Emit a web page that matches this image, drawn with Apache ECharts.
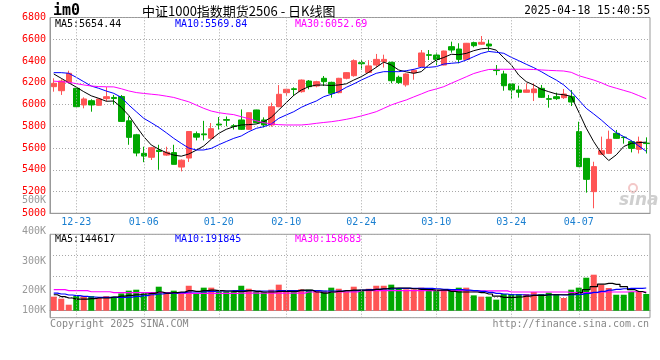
<!DOCTYPE html>
<html><head><meta charset="utf-8">
<script src="https://cdn.jsdelivr.net/npm/echarts@6.0.0/dist/echarts.min.js"></script>
<style>html,body{margin:0;padding:0;background:#fff}#c{width:660px;height:360px}</style>
</head><body><div id="c"></div><script>
const dates = ['12-18','12-19','12-20','12-23','12-24','12-25','12-26','12-27','12-30','12-31',
'01-02','01-03','01-06','01-07','01-08','01-09','01-10','01-13','01-14','01-15','01-16','01-17',
'01-20','01-21','01-22','01-23','01-24','01-27','02-05','02-06','02-07','02-10','02-11','02-12',
'02-13','02-14','02-17','02-18','02-19','02-20','02-21','02-24','02-25','02-26','02-27','02-28',
'03-03','03-04','03-05','03-06','03-07','03-10','03-11','03-12','03-13','03-14','03-17','03-18',
'03-19','03-20','03-21','03-24','03-25','03-26','03-27','03-28','03-31','04-01','04-02','04-03',
'04-07','04-08','04-09','04-10','04-11','04-14','04-15','04-16','04-17','04-18'];
const opens  = [6164,6127,6207,6149,5996,6035,5993,6054,6065,6074,5850,5722,5551,5515,5580,5535,5558,5425,5508,5732,
5730,5690,5820,5862,5805,5858,5772,5950,5858,5812,5980,6109,6145,6118,6216,6170,6241,6204,6109,6241,
6265,6385,6295,6363,6395,6388,6250,6181,6292,6348,6458,6455,6363,6532,6510,6415,6569,6555,6556,6320,
6281,6189,6134,6112,6109,6149,6054,6072,6063,6072,5751,5505,5199,5542,5551,5735,5700,5659,5588,5645];
const closes = [6195,6216,6287,5980,6051,5996,6051,6072,6055,5845,5698,5554,5526,5603,5568,5562,5450,5488,5752,5700,
5722,5778,5812,5855,5798,5772,5925,5833,5812,5980,6094,6140,6138,6225,6164,6210,6210,6103,6241,6293,
6403,6375,6355,6415,6415,6219,6201,6281,6315,6474,6452,6415,6492,6501,6415,6563,6541,6572,6538,6312,
6173,6134,6112,6134,6143,6066,6048,6054,6097,6023,5429,5312,5429,5576,5680,5689,5696,5597,5659,5641];
const lows   = [6118,6088,6195,5977,5965,5934,5990,6030,6000,5840,5630,5524,5470,5490,5400,5528,5450,5385,5472,5670,
5670,5680,5770,5800,5770,5766,5766,5827,5790,5796,5975,6078,6078,6109,6140,6158,6170,6063,6103,6232,
6256,6320,6290,6340,6340,6195,6189,6164,6228,6348,6409,6363,6360,6477,6379,6410,6526,6550,6495,6270,
6127,6051,6063,6110,6032,6060,5971,6042,6051,5986,5425,5190,5046,5535,5545,5685,5640,5560,5550,5550];
const highs  = [6241,6232,6311,6152,6066,6048,6055,6160,6088,6087,5890,5730,5612,5610,5630,5612,5630,5495,5755,5752,
5850,5830,5885,5890,5820,5955,5928,5952,5882,6017,6179,6145,6158,6230,6225,6218,6262,6210,6245,6298,
6415,6408,6408,6465,6458,6394,6265,6287,6328,6501,6501,6477,6495,6578,6563,6566,6578,6630,6593,6363,
6311,6189,6173,6195,6195,6180,6088,6109,6143,6134,5842,5505,5474,5705,5760,5766,5705,5668,5705,5698];
const ma5  = [6281,6241,6200,6160,6118,6080,6057,6030,6032,5974,5900,5800,5705,5628,5590,5558,5535,5525,5545,5580,
5619,5680,5735,5772,5796,5812,5815,5821,5842,5882,5950,6017,6084,6133,6164,6179,6179,6175,6180,6190,
6225,6256,6296,6342,6390,6363,6317,6300,6287,6302,6363,6409,6432,6462,6458,6470,6495,6512,6518,6500,
6430,6365,6270,6210,6180,6140,6118,6097,6090,6075,5931,5783,5658,5554,5485,5537,5614,5643,5650,5654];
const ma10 = [6293,6293,6287,6250,6210,6170,6149,6124,6103,6066,5996,5934,5873,5833,5790,5741,5689,5643,5600,5582,
5582,5597,5630,5660,5689,5711,5750,5781,5796,5821,5873,5904,5934,5974,6005,6032,6072,6094,6118,6158,
6189,6225,6256,6287,6302,6302,6302,6311,6323,6342,6342,6348,6372,6379,6385,6409,6440,6470,6488,6480,
6471,6434,6403,6370,6339,6302,6262,6225,6180,6118,6042,5965,5913,5858,5797,5741,5705,5668,5619,5570];
const ma30 = [6215,6210,6205,6192,6180,6170,6165,6163,6162,6145,6125,6110,6102,6095,6088,6077,6065,6045,6025,5995,
5965,5940,5925,5915,5907,5888,5870,5850,5833,5821,5815,5812,5812,5812,5818,5827,5835,5842,5852,5864,
5878,5895,5914,5934,5965,5996,6020,6042,6070,6097,6125,6143,6164,6195,6225,6255,6285,6305,6322,6324,
6324,6324,6324,6324,6322,6318,6314,6311,6308,6296,6265,6245,6225,6200,6170,6150,6130,6110,6082,6053];
// volume in thousands (K)
const volumes = [117,100,50,122,122,122,106,122,117,144,167,175,144,139,200,144,167,156,208,139,
192,192,161,161,161,208,183,156,156,175,217,156,167,178,175,167,167,192,183,161,
200,167,183,208,208,217,189,178,178,192,167,167,178,167,192,192,128,117,117,92,
139,139,139,139,156,139,150,139,106,175,192,275,300,217,189,133,133,156,161,139];
const volMa5  = [133,117,106,97,97,100,106,106,114,122,128,133,139,144,156,147,150,156,167,161,
167,172,167,164,161,161,167,161,156,156,161,161,161,172,172,156,147,156,161,167,
172,172,172,178,183,189,189,189,183,178,175,172,172,161,156,156,156,150,139,122,
111,111,114,122,128,128,133,133,133,139,150,175,200,222,228,220,200,175,160,148];
const volMa10 = [147,139,131,125,120,114,111,111,111,111,113,119,125,133,139,144,147,150,156,156,
158,161,164,164,167,167,167,164,164,164,167,167,167,167,167,167,164,164,164,167,
167,172,175,178,181,183,186,186,186,186,186,183,178,175,175,172,167,161,153,144,
139,133,133,131,131,131,133,133,131,133,136,144,153,161,172,178,183,186,186,189];
const volMa30 = [175,175,167,167,167,158,158,158,150,150,150,150,150,150,150,150,144,144,144,144,
144,144,144,144,144,147,147,147,147,147,147,147,147,147,156,156,156,156,156,156,
156,167,167,167,167,167,167,167,167,167,167,167,167,167,167,167,165,165,165,165,
165,156,156,156,156,156,156,156,156,150,150,150,150,156,156,156,156,158,158,158];
const gridDates = ['12-23','01-06','01-20','02-10','02-24','03-10','03-24','04-07'];
const priceMin = 5000, priceMax = 6800, priceStep = 200;
const volTickLabels = ['500K','400K','300K','200K','100K'];
const volTickY = [200,231,261,290,310];
const priceLegend = ['MA5:5654.44','MA10:5569.84','MA30:6052.69'];
const volLegend = ['MA5:144617','MA10:191845','MA30:158683'];
const maColors = ['#000000','#0000ff','#ff00ff'];
const UP = '#ff5555', DOWN = '#00a800';

const MONO = '"DejaVu Sans Mono", monospace';
const chart = echarts.init(document.getElementById('c'), null, {renderer:'canvas'});
const candleData = dates.map((d,i)=>[opens[i],closes[i],lows[i],highs[i]]);
const volData = volumes.map((v,i)=>({value:v, itemStyle:{color: closes[i]>=opens[i]?UP:DOWN}}));
const dotted = {color:'#a8a8a8', type:[1,2], width:1};
const vmark = {silent:true, symbol:['none','none'], label:{show:false}, lineStyle:dotted,
  emphasis:{disabled:true}, data: gridDates.map(d=>({xAxis:d}))};

function txt(text, x, y, color, font, align, extra){
  const el = {type:'text', silent:true, style:{text, x, y, fill:color, font,
    align:align||'left', verticalAlign:'middle', textAlign:align||'left', textVerticalAlign:'middle'}};
  return Object.assign(el, extra||{});
}
const graphics = [
  txt('im0', 53, 11, '#000', 'bold 15px '+MONO),
  txt('中证1000指数期货2506 - 日K线图', 142, 11, '#000', '13px "Noto Sans CJK SC"'),
  txt('2025-04-18 15:40:55', 0, 0, '#000', '11px '+MONO, 'right', {x:650, y:11, scaleY:1.15}),
  txt(priceLegend[0], 55, 24, maColors[0], '10px '+MONO),
  txt(priceLegend[1], 175, 24, maColors[1], '10px '+MONO),
  txt(priceLegend[2], 295, 24, maColors[2], '10px '+MONO),
  txt(volLegend[0], 55, 239, maColors[0], '10px '+MONO),
  txt(volLegend[1], 175, 239, maColors[1], '10px '+MONO),
  txt(volLegend[2], 295, 239, maColors[2], '10px '+MONO),
  txt('Copyright 2025 SINA.COM', 50, 324, '#888', '10px '+MONO),
  txt('http://finance.sina.com.cn', 649, 324, '#888', '10px '+MONO, 'right'),
  {type:'text', silent:true, z:0, style:{text:'sina', x:619, y:201, fill:'#cfcfcf',
    font:'italic bold 17px "DejaVu Sans"', align:'left', verticalAlign:'middle', textAlign:'left', textVerticalAlign:'middle'}},
  {type:'circle', silent:true, z:0, shape:{cx:633, cy:188, r:4}, style:{fill:'none', stroke:'#f3c8c8', lineWidth:2}}
];
volTickLabels.forEach((t,i)=>graphics.push(txt(t, 46, volTickY[i], '#999', '10px '+MONO, 'right')));

const option = {
  animation:false,
  backgroundColor:'#fff',
  grid:[
    {left:50, width:600, top:17.5, height:195.8, show:true, borderColor:'#999', borderWidth:1, backgroundColor:'transparent'},
    {left:50, width:600, top:234.3, height:83.4, show:true, borderColor:'#999', borderWidth:1, backgroundColor:'transparent'}
  ],
  xAxis:[
    {type:'category', gridIndex:0, data:dates, boundaryGap:true,
     axisLine:{show:true, lineStyle:{color:'#999'}}, axisTick:{show:false},
     axisLabel:{interval:(i,v)=>gridDates.includes(v), color:'#1a7fd0', fontFamily:'DejaVu Sans Mono', fontSize:10, margin:4},
     splitLine:{show:false}},
    {type:'category', gridIndex:1, data:dates, boundaryGap:true,
     axisLine:{show:true, lineStyle:{color:'#999'}}, axisTick:{show:false}, axisLabel:{show:false}, splitLine:{show:false}}
  ],
  yAxis:[
    {type:'value', gridIndex:0, min:priceMin, max:priceMax, interval:priceStep,
     axisLine:{show:true, lineStyle:{color:'#999', width:1}}, axisTick:{show:false},
     axisLabel:{color:'#ff0000', fontFamily:'DejaVu Sans Mono', fontSize:10, margin:4, formatter:v=>String(v)},
     splitLine:{show:true, lineStyle:dotted}},
    {type:'value', gridIndex:1, min:-58.333, max:636.667,
     axisLine:{show:true, lineStyle:{color:'#999'}}, axisTick:{show:false}, axisLabel:{show:false}, splitLine:{show:false}},
    {type:'value', gridIndex:1, min:0, max:4, interval:1, position:'right',
     axisLine:{show:false}, axisTick:{show:false}, axisLabel:{show:false}, splitLine:{show:true, lineStyle:dotted}}
  ],
  series:[
    {type:'line', xAxisIndex:0, yAxisIndex:0, data:[], z:1, markLine:vmark, silent:true},
    {type:'line', xAxisIndex:1, yAxisIndex:1, data:[], z:1, markLine:vmark, silent:true},
    {type:'candlestick', xAxisIndex:0, yAxisIndex:0, data:candleData, barWidth:6, z:3,
     itemStyle:{color:UP, color0:DOWN, borderColor:UP, borderColor0:DOWN, borderWidth:1}},
    {type:'line', xAxisIndex:0, yAxisIndex:0, data:ma5, showSymbol:false, z:4, lineStyle:{color:maColors[0], width:1}},
    {type:'line', xAxisIndex:0, yAxisIndex:0, data:ma10, showSymbol:false, z:4, lineStyle:{color:maColors[1], width:1}},
    {type:'line', xAxisIndex:0, yAxisIndex:0, data:ma30, showSymbol:false, z:4, lineStyle:{color:maColors[2], width:1}},
    {type:'bar', xAxisIndex:1, yAxisIndex:1, data:volData, barWidth:6, z:3},
    {type:'line', xAxisIndex:1, yAxisIndex:1, data:volMa30, step:'middle', showSymbol:false, z:4, lineStyle:{color:maColors[2], width:1.2}},
    {type:'line', xAxisIndex:1, yAxisIndex:1, data:volMa10, step:'middle', showSymbol:false, z:4, lineStyle:{color:maColors[1], width:1.2}},
    {type:'line', xAxisIndex:1, yAxisIndex:1, data:volMa5, step:'middle', showSymbol:false, z:4, lineStyle:{color:maColors[0], width:1.2}}
  ],
  graphic: graphics
};
chart.setOption(option);
</script></body></html>
